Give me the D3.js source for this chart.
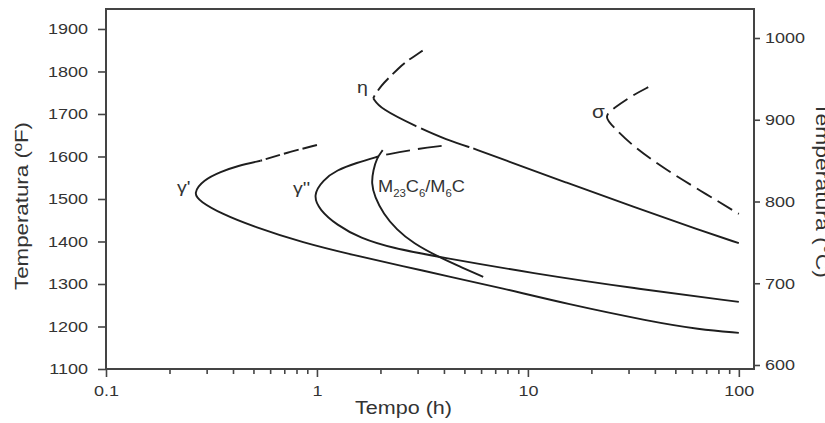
<!DOCTYPE html>
<html>
<head>
<meta charset="utf-8">
<script src="https://cdn.jsdelivr.net/npm/d3@7/dist/d3.min.js"></script>
<style>
body { margin:0; background:#fff; }
svg { display:block; font-family:"Liberation Sans", Arial, sans-serif; }
</style>
</head>
<body>
<script>
// axis ticks
var fTicks = [1100,1200,1300,1400,1500,1600,1700,1800,1900];
var cTicks = [600,700,800,900,1000];
var tMajor = [0.1,1,10,100];
var tMinor = [0.2,0.3,0.4,0.5,0.6,0.7,0.8,0.9,2,3,4,5,6,7,8,9,20,30,40,50,60,70,80,90];

// curves, [tempo (h), temperatura (F)]
var gp_dash  = [[1.0,1627],[0.72,1609],[0.54,1590]];
var gp_solid = [[0.54,1590],[0.42,1578],[0.35,1564],[0.29,1545],[0.258,1513],[0.28,1494],[0.35,1466],[0.5,1435],[0.86,1397],[1.49,1368],[2.56,1342],[4.27,1317],[7.4,1291],[15.3,1253],[38,1212],[65,1193],[100,1185]];
var gpp_dash  = [[3.9,1625],[3.0,1618],[2.1,1604],[1.95,1600]];
var gpp_solid = [[1.95,1600],[1.54,1585],[1.24,1568],[1.07,1545],[0.955,1509],[1.03,1474],[1.24,1439],[1.6,1408],[2.3,1384],[3.75,1364],[10.6,1325],[31.6,1290],[100,1258]];
var m23 = [[2.05,1615],[1.92,1596],[1.85,1568],[1.81,1537],[1.88,1505],[2.06,1466],[2.39,1427],[2.86,1396],[3.76,1364],[4.76,1341],[6.14,1317]];
var eta_dash = [[3.17,1849],[2.76,1829],[2.57,1819],[2.14,1780],[2.03,1768],[1.88,1745],[1.85,1737]];
var eta_long = [[1.85,1737],[1.99,1713],[2.97,1670],[4.12,1639],[5.51,1619]];
var eta_solid = [[5.51,1619],[7.37,1596],[15.3,1538],[31.6,1482],[65,1427],[100,1396]];
var sigma = [[37.2,1763],[31.6,1745],[25.4,1713],[22.9,1694],[25.4,1670],[31.6,1623],[45.4,1568],[65,1521],[100,1465]];

var W = 825, H = 423;
var svg = d3.select("body").append("svg").attr("width", W).attr("height", H);

var x = d3.scaleLog().domain([0.1, 118]).range([106, 754]);
var y = d3.scaleLinear().domain([1100, 1947]).range([369, 9]);
var yC = d3.scaleLinear().domain([600, 1000]).range([365, 38]);

var txt = "#333", ax = "#444";

// widen text a bit, the source picture is stretched sideways
function stretch(sel, k) {
  sel.each(function() {
    var w = this.getComputedTextLength();
    d3.select(this).attr("textLength", w * k).attr("lengthAdjust", "spacingAndGlyphs");
  });
}

function styleAxis(g) {
  g.select(".domain").remove();
  g.selectAll("line").attr("stroke", ax).attr("stroke-width", 1.6);
  g.selectAll("text").attr("fill", txt).attr("font-size", 15)
   .attr("font-family", "Liberation Sans, Arial, sans-serif");
}

// left axis
var gl = svg.append("g").attr("transform", "translate(106,0)")
  .call(d3.axisLeft(y).tickValues(fTicks).tickSize(8).tickPadding(10).tickFormat(d3.format("d")));
styleAxis(gl);
stretch(gl.selectAll("text"), 1.2);

// right axis
var gr = svg.append("g").attr("transform", "translate(754,0)")
  .call(d3.axisRight(yC).tickValues(cTicks).tickSize(6).tickPadding(5).tickFormat(d3.format("d")));
styleAxis(gr);
stretch(gr.selectAll("text"), 1.2);

// bottom axis
var gb = svg.append("g").attr("transform", "translate(0,369)")
  .call(d3.axisBottom(x).tickValues(tMajor).tickSize(8).tickPadding(8).tickFormat(function(d) { return String(d); }));
styleAxis(gb);
stretch(gb.selectAll("text"), 1.2);
var gm = svg.append("g").attr("transform", "translate(0,369)")
  .call(d3.axisBottom(x).tickValues(tMinor).tickSize(5).tickFormat(""));
styleAxis(gm);

// frame
svg.append("rect").attr("x", 106).attr("y", 9).attr("width", 648).attr("height", 360)
  .attr("fill", "none").attr("stroke", ax).attr("stroke-width", 2);

// curves
var line = d3.line().x(function(d) { return x(d[0]); }).y(function(d) { return y(d[1]); })
  .curve(d3.curveBasis);

function curve(data, dash) {
  svg.append("path").datum(data).attr("d", line)
    .attr("fill", "none").attr("stroke", "#1e1e1e").attr("stroke-width", 1.9)
    .attr("stroke-dasharray", dash || null);
}
curve(gp_dash, "15,4");
curve(gp_solid);
curve(gpp_dash, "24,8");
curve(gpp_solid);
curve(m23);
curve(eta_dash, "16,6");
curve(eta_long, "52,5");
curve(eta_solid);
curve(sigma, "17,7");

// curve labels
function label(px, py, s, size) {
  var t = svg.append("text").attr("x", px).attr("y", py).attr("fill", txt)
    .attr("font-size", size).text(s);
  stretch(t, 1.15);
  return t;
}
label(177, 193, "γ'", 17);
label(293, 194, "γ''", 17);
label(357, 93, "η", 17);
label(592, 118, "σ", 18);

var mt = svg.append("text").attr("x", 378).attr("y", 192).attr("fill", txt).attr("font-size", 16);
mt.append("tspan").text("M");
mt.append("tspan").attr("font-size", 10).attr("dy", 5).text("23");
mt.append("tspan").attr("dy", -5).text("C");
mt.append("tspan").attr("font-size", 10).attr("dy", 5).text("6");
mt.append("tspan").attr("dy", -5).text("/M");
mt.append("tspan").attr("font-size", 10).attr("dy", 5).text("6");
mt.append("tspan").attr("dy", -5).text("C");
mt.attr("textLength", 87).attr("lengthAdjust", "spacingAndGlyphs");

// axis titles (the right one runs off the edge, as in the source)
svg.append("text").attr("transform", "translate(28,206) rotate(-90)")
  .attr("text-anchor", "middle").attr("fill", txt).attr("font-size", 19)
  .attr("textLength", 168).attr("lengthAdjust", "spacingAndGlyphs")
  .text("Temperatura (ºF)");
svg.append("text").attr("transform", "translate(816,190) rotate(90)")
  .attr("text-anchor", "middle").attr("fill", txt).attr("font-size", 19)
  .attr("textLength", 176).attr("lengthAdjust", "spacingAndGlyphs")
  .text("Temperatura (°C)");
svg.append("text").attr("x", 403.5).attr("y", 414)
  .attr("text-anchor", "middle").attr("fill", txt).attr("font-size", 18)
  .attr("textLength", 97).attr("lengthAdjust", "spacingAndGlyphs")
  .text("Tempo (h)");
</script>
</body>
</html>
